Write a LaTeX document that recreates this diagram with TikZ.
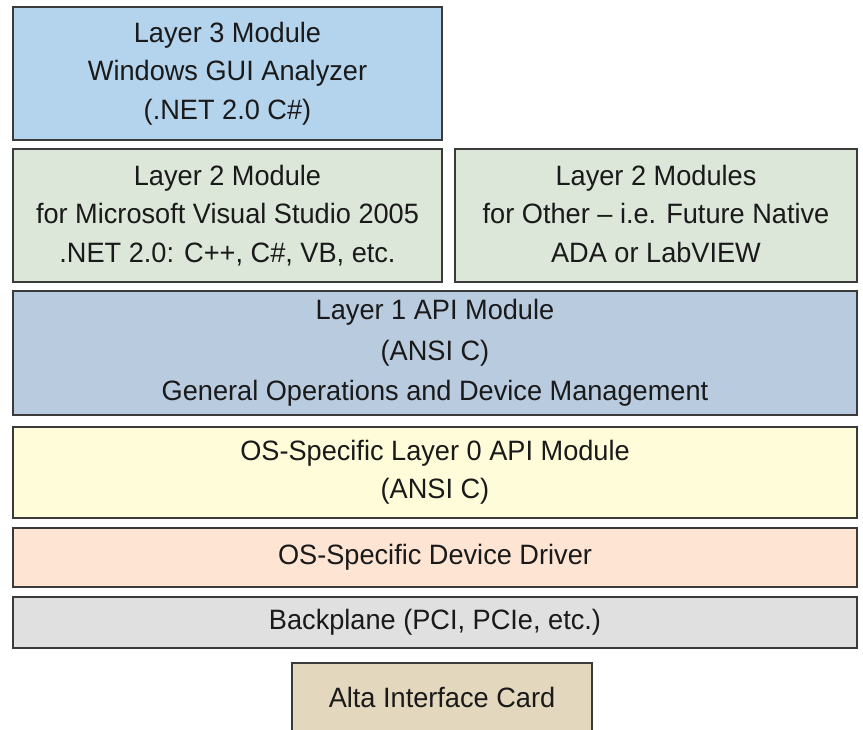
\documentclass[tikz,border=0pt]{standalone}
\usepackage{fontspec}
\setmainfont{Liberation Sans}[FakeStretch=0.97]
\definecolor{cL3}{HTML}{B4D3EC}
\definecolor{cL2}{HTML}{DCE6D9}
\definecolor{cL1}{HTML}{B9CBDF}
\definecolor{cL0}{HTML}{FFFDD9}
\definecolor{cDrv}{HTML}{FDE4D3}
\definecolor{cBack}{HTML}{E0E0E0}
\definecolor{cCard}{HTML}{E3D7BE}
\definecolor{cEdge}{HTML}{3A3A3A}
\definecolor{cText}{HTML}{1A1A1A}
\begin{document}
\begin{tikzpicture}[x=1pt,y=-1pt,
  layerbox/.style={draw=cEdge, line width=1.5pt, align=center,
    font=\fontsize{28}{38.5}\selectfont, text=cText,
    inner sep=0pt, outer sep=0pt, anchor=north west}]
\useasboundingbox (0,0) rectangle (863,730);
\clip (0,0) rectangle (863,730);
\node[layerbox, fill=cL3, minimum width=429pt, minimum height=133pt] (l3) at (13,7)
  {Layer 3 Module\\Windows GUI Analyzer\\(.NET 2.0 C\#)};
\node[layerbox, fill=cL2, minimum width=429pt, minimum height=133pt] (l2a) at (13,149)
  {Layer 2 Module\\for Microsoft Visual Studio 2005\\.NET 2.0: C++, C\#, VB, etc.};
\node[layerbox, fill=cL2, minimum width=402pt, minimum height=133pt] (l2b) at (455,149)
  {Layer 2 Modules\\for Other -- i.e. Future Native\\ADA or LabVIEW\vphantom{,}};
\node[layerbox, fill=cL1, minimum width=844pt, minimum height=124pt,
    font=\fontsize{28}{40.5}\selectfont] (l1) at (13,291)
  {Layer 1 API Module\\(ANSI C)\\General Operations and Device Management};
\node[layerbox, fill=cL0, minimum width=844pt, minimum height=91pt] (l0) at (13,427)
  {OS-Specific Layer 0 API Module\\(ANSI C)};
\node[layerbox, fill=cDrv, minimum width=844pt, minimum height=59pt] (drv) at (13,528)
  {OS-Specific Device Driver};
\node[layerbox, fill=cBack, minimum width=844pt, minimum height=51pt] (back) at (13,597)
  {Backplane (PCI, PCIe, etc.)};
\node[layerbox, fill=cCard, minimum width=300pt, minimum height=72pt] (card) at (292,663)
  {\raisebox{3pt}{Alta Interface Card}};
\end{tikzpicture}
\end{document}
